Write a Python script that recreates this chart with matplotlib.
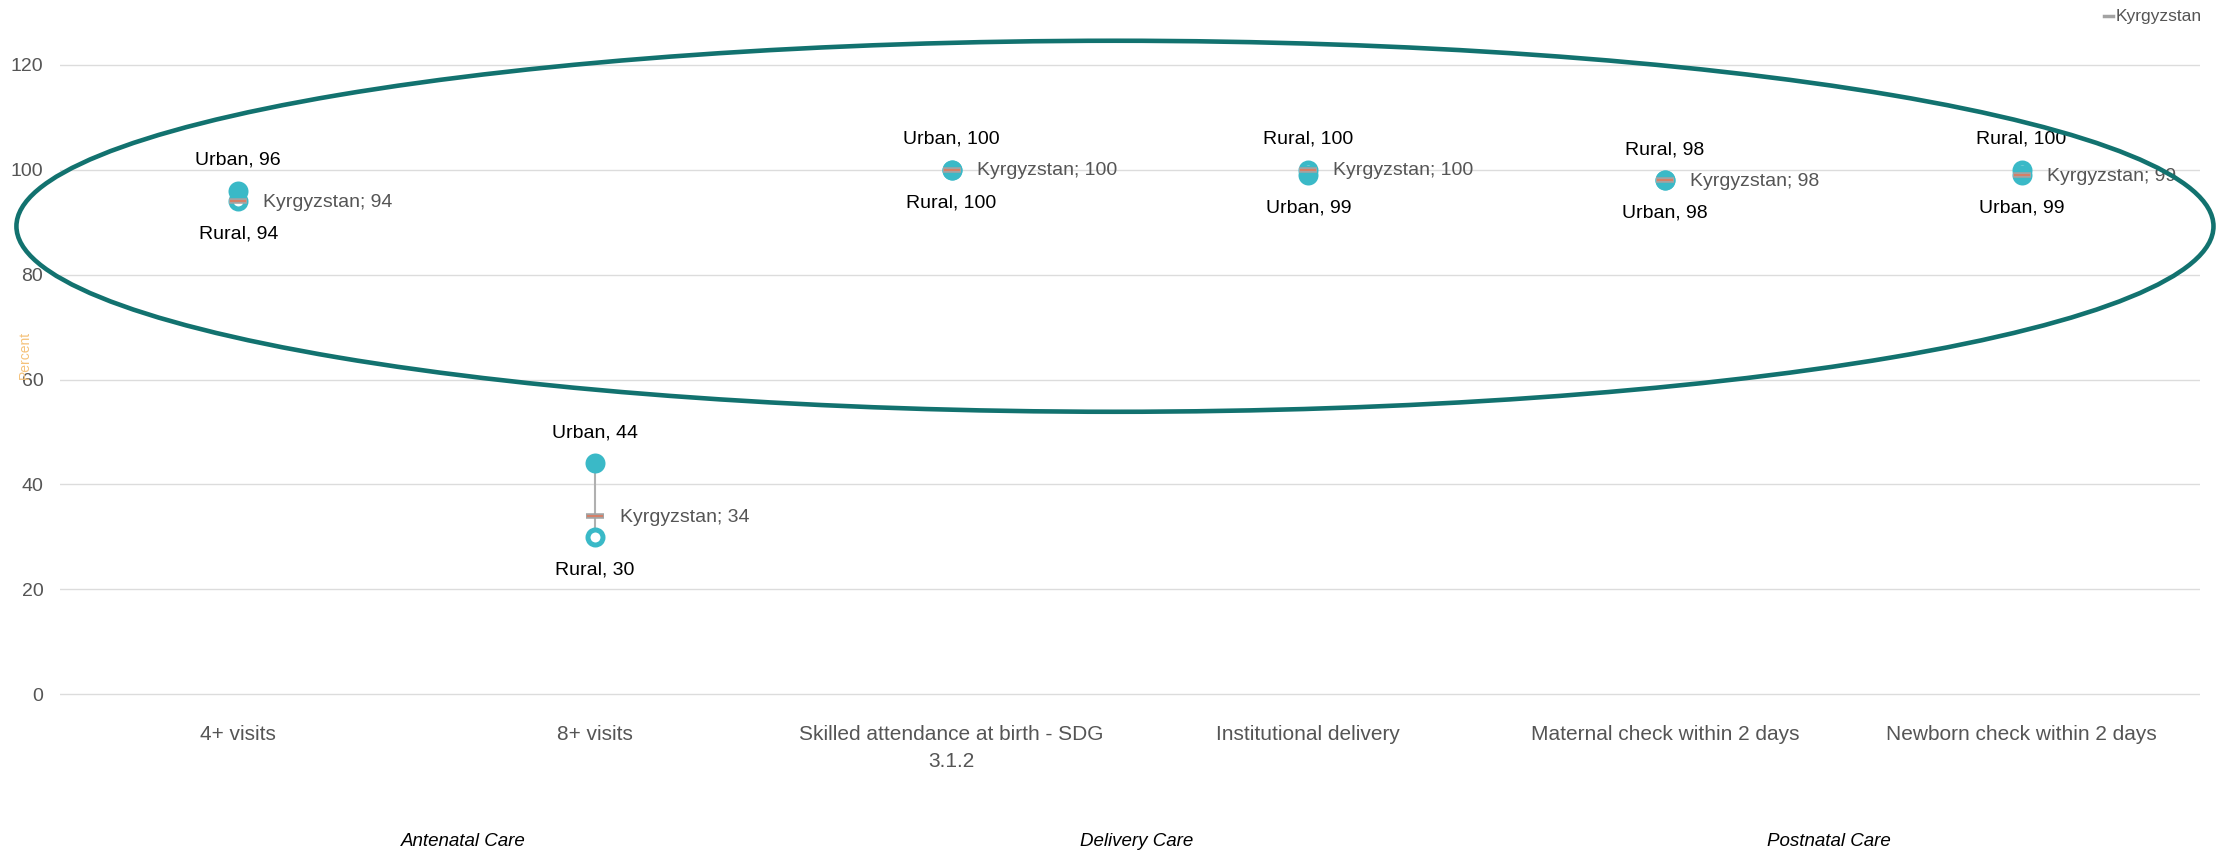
import matplotlib.pyplot as plt
from matplotlib.patches import Ellipse

plt.rcParams['font.family'] = ['Liberation Sans', 'DejaVu Sans']

categories = ['4+ visits', '8+ visits', 'Skilled attendance at birth - SDG\n3.1.2',
              'Institutional delivery', 'Maternal check within 2 days',
              'Newborn check within 2 days']
urban = [96, 44, 100, 99, 98, 99]
rural = [94, 30, 100, 100, 98, 100]
national = [94, 34, 100, 100, 98, 99]
urban_on_top = [True, True, True, False, False, False]
groups = ['Antenatal Care', 'Delivery Care', 'Postnatal Care']
group_x = [0.63, 2.52, 4.46]

teal = '#3ab9c7'
grey_txt = '#555555'

fig = plt.figure(figsize=(22.28, 8.51), dpi=100)
ax = fig.add_axes([0.0269, 0.1822, 0.9605, 0.7437])

x = list(range(len(categories)))

# thin connector between urban and rural
for i in x:
    ax.plot([i, i], [urban[i], rural[i]], color='#b0b0b0', lw=1.5, zorder=2)

ax.plot(x, rural, 'o', ms=10.8, mfc='white', mec=teal, mew=3.6, ls='none', zorder=3)
ax.plot(x, urban, 'o', ms=14.4, mfc=teal, mec=teal, mew=0, ls='none', zorder=4)
ax.plot(x, national, '_', ms=13, mec='#a3a3a3', mew=4, ls='none', zorder=5)
ax.plot(x, national, '_', ms=11, mec='#e0785c', mew=1.2, ls='none', zorder=6)

for i in x:
    if urban_on_top[i]:
        top, bot = ('Urban', urban[i]), ('Rural', rural[i])
    else:
        top, bot = ('Rural', rural[i]), ('Urban', urban[i])
    ax.annotate(f'{top[0]}, {top[1]}', (i, top[1]), xytext=(0, 22), textcoords='offset points',
                ha='center', va='center', fontsize=14, color='black')
    ax.annotate(f'{bot[0]}, {bot[1]}', (i, bot[1]), xytext=(0, -24), textcoords='offset points',
                ha='center', va='center', fontsize=14, color='black')
    ax.annotate(f'Kyrgyzstan; {national[i]}', (i, national[i]), xytext=(18, -1),
                textcoords='offset points', ha='left', va='center', fontsize=14, color=grey_txt)

ax.add_patch(Ellipse((2.458, 89.2), 6.16, 70.7, fill=False, ec='#12726f', lw=3.3,
                     clip_on=False, zorder=7))

ax.set_xlim(-0.5, 5.5)
ax.set_ylim(-0.3, 120.3)
ax.set_yticks(range(0, 121, 20))
ax.set_xticks(x)
ax.set_xticklabels(categories, fontsize=15, color=grey_txt, linespacing=1.5)
ax.tick_params(axis='y', length=0, pad=12, labelsize=14, labelcolor=grey_txt)
ax.tick_params(axis='x', length=0, pad=21)
ax.grid(axis='y', color='#dcdcdc', lw=1)
ax.set_axisbelow(True)
for s in ax.spines.values():
    s.set_visible(False)

for g, gx in zip(groups, group_x):
    ax.text(gx, -28, g, ha='center', va='center', fontsize=13.5, style='italic', color='black')

fig.text(25 / 2228, 1 - 355 / 851, 'Percent', rotation=90, ha='center', va='center',
         fontsize=10, color='#f5c27a')

# legend
fig.text(0.9880, 1 - 17 / 851, 'Kyrgyzstan', ha='right', va='center', fontsize=12.5, color=grey_txt)
fig.lines.append(plt.Line2D([2104 / 2228, 2113 / 2228], [1 - 16 / 851] * 2,
                            transform=fig.transFigure, color='#a3a3a3', lw=2.5))

fig.savefig('out.png', dpi=100)
